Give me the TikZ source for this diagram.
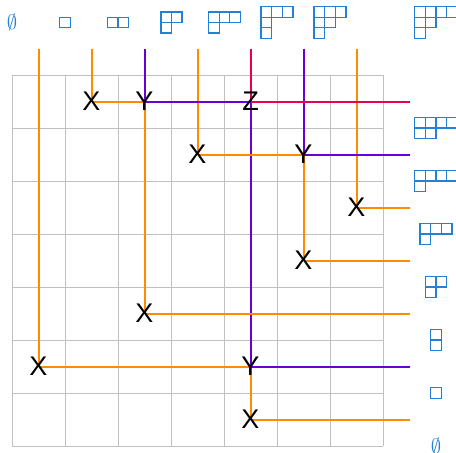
\documentclass[tikz,border=0pt]{standalone}
\usepackage{fontspec}
\newfontfamily\lettfont{Liberation Sans}
\definecolor{lorange}{RGB}{255,140,0}
\definecolor{lpurple}{RGB}{102,0,214}
\definecolor{lred}{RGB}{232,0,78}
\definecolor{lblue}{RGB}{36,128,212}
\definecolor{lgrid}{RGB}{192,192,192}
\newcommand\cs{10.6}
\tikzset{
  gridline/.style={draw=lgrid, line width=1pt},
  orangeline/.style={draw=lorange, line width=2pt},
  purpleline/.style={draw=lpurple, line width=2pt},
  redline/.style={draw=lred, line width=2pt},
  letter/.style={text=black, inner sep=0pt, font=\lettfont\fontsize{27}{27}\selectfont},
  emptylbl/.style={text=lblue, inner sep=0pt, font=\fontsize{22}{22}\selectfont},
  ydline/.style={draw=lblue, line width=1.3pt},
  young/.pic={
    \foreach \len [count=\r] in {#1} {
      \foreach \c in {1,...,\len} {
        \draw[ydline] ({(\c-1)*\cs},{(\r-1)*\cs}) rectangle ++(\cs,\cs);
      }
    }
  }
}
\begin{document}
\begin{tikzpicture}[x=1pt,y=-1pt]
\useasboundingbox (0,0) rectangle (456,453);
% grid
\foreach \i in {0,...,7} {
  \draw[gridline] ({12+53*\i},75) -- ({12+53*\i},446);
  \draw[gridline] (12,{75+53*\i}) -- (383,{75+53*\i});
}
% top free ends
\foreach \i in {1,...,7} { \coordinate (t\i) at ({38.5+53*(\i-1)},48.5); }
% right free ends
\foreach \j in {1,...,7} { \coordinate (r\j) at (409.5,{101.5+53*(\j-1)}); }
% intersections
\coordinate (a) at (91.5,101.5);
\coordinate (b) at (144.5,101.5);
\coordinate (c) at (250.5,101.5);
\coordinate (d) at (197.5,154.5);
\coordinate (e) at (303.5,154.5);
\coordinate (f) at (356.5,207.5);
\coordinate (g) at (303.5,260.5);
\coordinate (h) at (144.5,313.5);
\coordinate (i) at (38.5,366.5);
\coordinate (j) at (250.5,366.5);
\coordinate (k) at (250.5,419.5);
% verticals
\draw[orangeline] (t1) -- (i);
\draw[orangeline] (t2) -- (a);
\draw[purpleline] (t3) -- (b);
\draw[orangeline] (b) -- (h);
\draw[orangeline] (t4) -- (d);
\draw[redline] (t5) -- (c);
\draw[purpleline] (c) -- (j);
\draw[orangeline] (j) -- (k);
\draw[purpleline] (t6) -- (e);
\draw[orangeline] (e) -- (g);
\draw[orangeline] (t7) -- (f);
% horizontals
\draw[orangeline] (a) -- (b);
\draw[purpleline] (b) -- (c);
\draw[redline] (c) -- (r1);
\draw[orangeline] (d) -- (e);
\draw[purpleline] (e) -- (r2);
\draw[orangeline] (f) -- (r3);
\draw[orangeline] (g) -- (r4);
\draw[orangeline] (h) -- (r5);
\draw[orangeline] (i) -- (j);
\draw[purpleline] (j) -- (r6);
\draw[orangeline] (k) -- (r7);
% letters
\node[letter] (la) at (a) {X};
\node[letter] (lb) at (b) {Y};
\node[letter] (lc) at (c) {Z};
\node[letter] (ld) at (d) {X};
\node[letter] (le) at (e) {Y};
\node[letter] (lf) at (f) {X};
\node[letter] (lg) at (g) {X};
\node[letter] (lh) at (h) {X};
\node[letter] (li) at (i) {X};
\node[letter] (lj) at (j) {Y};
\node[letter] (lk) at (k) {X};
% top labels
\node[emptylbl] (top0) at (12,22.5) {$\emptyset$};
\pic (top1) at (59.7,17.2) {young={1}};
\pic (top2) at (107.4,17.2) {young={2}};
\pic (top3) at (160.9,11.9) {young={2,1}};
\pic (top4) at (208.6,11.9) {young={3,1}};
\pic (top5) at (261.1,6.6) {young={3,1,1}};
\pic (top6) at (314.1,6.6) {young={3,2,1}};
\pic (top7) at (414.8,6.6) {young={4,2,1}};
% right labels
\pic (rt1) at (414.8,117.4) {young={4,2}};
\pic (rt2) at (414.8,170.4) {young={4,1}};
\pic (rt3) at (420.1,223.4) {young={3,1}};
\pic (rt4) at (425.4,276.4) {young={2,1}};
\pic (rt5) at (430.7,329.4) {young={1,1}};
\pic (rt6) at (430.7,387.7) {young={1}};
\node[emptylbl] (rt7) at (436,446) {$\emptyset$};
\end{tikzpicture}
\end{document}
